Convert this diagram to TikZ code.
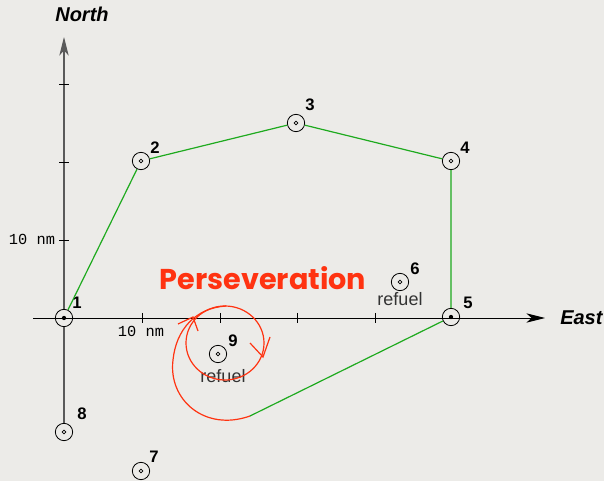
\documentclass[tikz,border=0pt]{standalone}
\usepackage{fontspec}
\setmainfont{Liberation Sans}
\newfontfamily\monof{Liberation Mono}
\newfontfamily\popf{Poppins}
\usetikzlibrary{arrows.meta}
\definecolor{bg}{RGB}{236,235,232}
\definecolor{grn}{RGB}{30,170,30}
\definecolor{rd}{RGB}{255,51,17}
\definecolor{axg}{RGB}{90,90,90}
\begin{document}
\begin{tikzpicture}[x=0.75pt,y=-0.75pt,
 wp/.style={circle,draw,line width=0.6pt,inner sep=0pt,minimum size=13pt,
   path picture={\draw[line width=0.5pt] (path picture bounding box.center) circle[radius=1.4pt];}},
 wpf/.style={circle,draw,line width=0.6pt,inner sep=0pt,minimum size=13pt,
   path picture={\fill (path picture bounding box.center) circle[radius=1.6pt];}},
 num/.style={font=\fontsize{12.5}{14}\selectfont\bfseries,inner sep=0pt},
 axl/.style={font=\fontsize{15}{17}\selectfont\bfseries\itshape,inner sep=0pt},
 ticklen/.style={line width=0.6pt},
 refl/.style={font=\fontsize{13.5}{15}\selectfont,text=black!80,inner sep=0pt},
 nml/.style={font=\monof\fontsize{11.5}{13}\selectfont,inner sep=0pt},
 route/.style={grn,line width=0.9pt},
 loopline/.style={rd,line width=0.9pt},
 axarrow/.style={-{Stealth[length=14pt,width=7pt,inset=4pt]}},
]
\fill[bg] (0,0) rectangle (604,481);
\useasboundingbox (0,0) rectangle (604,481);

% waypoints
\node[wpf] (p1) at (64,318) {};
\node[wp]  (p2) at (141,161) {};
\node[wp]  (p3) at (296,123) {};
\node[wp]  (p4) at (451,161) {};
\node[wpf] (p5) at (451,317) {};
\node[wp]  (p6) at (400,282) {};
\node[wp]  (p7) at (141,471) {};
\node[wp]  (p8) at (64,432) {};
\node[wp]  (p9) at (218,354) {};

% axes
\coordinate (ew) at (33,318);
\coordinate (ee) at (545,318);
\coordinate (nn) at (64,37);
\draw[line width=0.7pt,axarrow] (ew) -- (ee);
\draw[axg,line width=0.8pt] (p8) -- (p1);
\draw[axg,line width=0.8pt,axarrow] (p1) -- (nn);
\foreach \x in {142,220,297,375} \draw[ticklen] (\x,313) -- (\x,323);
\foreach \y in {84,162,240} \draw[ticklen] (59,\y) -- (69,\y);

\node[axl] (north) at (82,14) {North};
\node[axl,anchor=west] (east) at (560,318) {East};
\node[nml] (nmv) at (32,239) {10 nm};
\node[nml] (nmh) at (141,331) {10 nm};

% labels
\node[num] (l1) at (77,303) {1};
\node[num] (l2) at (155,148) {2};
\node[num] (l3) at (310,105) {3};
\node[num] (l4) at (465,148) {4};
\node[num] (l5) at (468,303) {5};
\node[num] (l6) at (415,269) {6};
\node[num] (l7) at (154,457) {7};
\node[num] (l8) at (82,414) {8};
\node[num] (l9) at (233,341) {9};
\node[refl] (r6) at (400,299) {refuel};
\node[refl] (r9) at (223,376) {refuel};

% route
\coordinate (sp) at (250,416);
\draw[route] (p1) -- (p2) -- (p3) -- (p4) -- (p5) -- (sp);

% perseveration loop
\node[font=\popf\fontsize{21.5}{24}\selectfont\bfseries,text=rd,inner sep=0pt,anchor=base] (pers) at (263,290) {Perseveration};
\draw[loopline] (sp) .. controls (205,432) and (168,400) .. (173,360)
  .. controls (176,330) and (195,308) .. (226,306);
\draw[loopline] (225,343) ellipse [x radius=39, y radius=37];
\draw[loopline] (178,324) -- (193,317) -- (198,331);
\draw[loopline] (250,343) -- (263,357) -- (270,337);
\end{tikzpicture}
\end{document}
